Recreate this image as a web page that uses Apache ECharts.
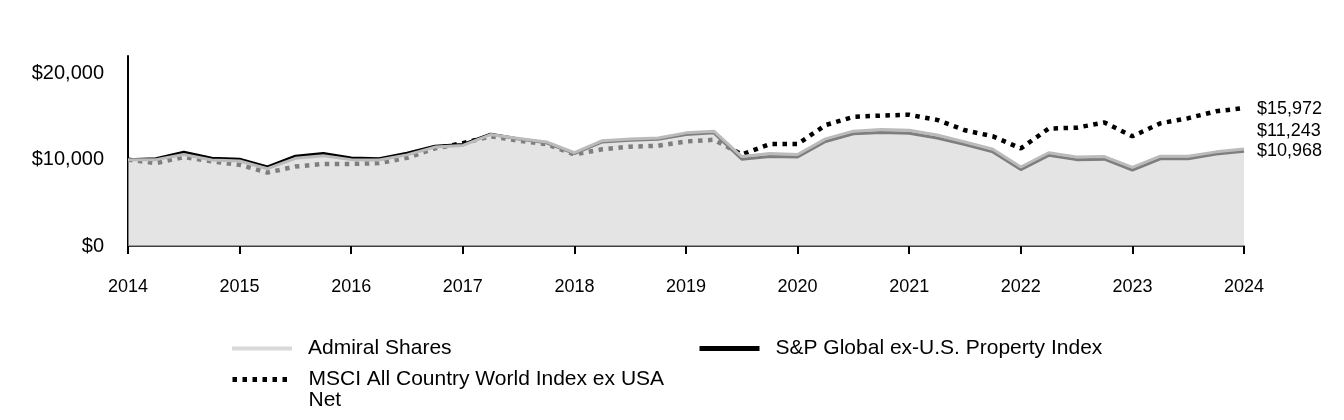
<!DOCTYPE html>
<html><head><meta charset="utf-8">
<script src="https://cdn.jsdelivr.net/npm/echarts@6/dist/echarts.min.js"></script>
<style>html,body{margin:0;padding:0;background:#fff}#c{width:1344px;height:420px}</style>
</head><body><div id="c"></div>
<script>
const periods = [2014, 2014.25, 2014.5, 2014.75, 2015, 2015.25, 2015.5, 2015.75, 2016, 2016.25, 2016.5, 2016.75,
  2017, 2017.25, 2017.5, 2017.75, 2018, 2018.25, 2018.5, 2018.75, 2019, 2019.25, 2019.5, 2019.75,
  2020, 2020.25, 2020.5, 2020.75, 2021, 2021.25, 2021.5, 2021.75, 2022, 2022.25, 2022.5, 2022.75,
  2023, 2023.25, 2023.5, 2023.75, 2024];
const yearTicks = [2014, 2015, 2016, 2017, 2018, 2019, 2020, 2021, 2022, 2023, 2024];
const admiral = [10000, 10000, 10600, 9950, 9850, 8950, 10150, 10450, 10000, 9950, 10550, 11450,
  11650, 12900, 12450, 12050, 10800, 12200, 12400, 12500, 13100, 13300, 10350, 10700,
  10600, 12400, 13300, 13500, 13400, 12850, 12050, 11200, 9150, 10800, 10300, 10350,
  9100, 10400, 10400, 10900, 11243];
const spProperty = [10000, 10100, 10850, 10150, 10050, 9150, 10400, 10700, 10200, 10100, 10750, 11550,
  11750, 12950, 12400, 11950, 10700, 12050, 12250, 12350, 12900, 13100, 10050, 10350,
  10300, 12100, 13000, 13150, 13050, 12500, 11750, 10900, 8850, 10500, 10000, 10050,
  8800, 10100, 10100, 10650, 10968];
const msciAcwi = [10000, 9600, 10300, 9800, 9400, 8500, 9200, 9500, 9500, 9600, 10200, 11300,
  11900, 12700, 12200, 11800, 10600, 11200, 11500, 11600, 12100, 12300, 10600, 11800,
  11800, 14000, 14950, 15100, 15200, 14600, 13400, 12700, 11300, 13600, 13700, 14300,
  12700, 14200, 14800, 15600, 15972];
const names = ['Admiral Shares', 'S&P Global ex-U.S. Property Index', 'MSCI All Country World Index ex USA\nNet'];

const FONT = '"Liberation Sans", Arial, sans-serif';
const pairs = arr => periods.map((t, i) => [t, arr[i]]);
const money = v => '$' + Math.round(v).toLocaleString('en-US');

const chart = echarts.init(document.getElementById('c'), null, {renderer: 'canvas'});
const legendText = {fontSize: 21, color: '#000', fontFamily: FONT, lineHeight: 21, padding: [0, 0, 0, 11]};
const legendBase = {
  padding: 0, itemWidth: 60, itemHeight: 14, itemGap: 0, selectedMode: false,
  itemStyle: {opacity: 0},
  textStyle: legendText
};
chart.setOption({
  animation: false,
  textStyle: {fontFamily: FONT},
  grid: {left: 128, right: 100, top: 56, bottom: 174},
  legend: [
    Object.assign({}, legendBase, {data: [names[0]], left: 230, top: 338, lineStyle: {width: 4, color: '#d9d9d9'}}),
    Object.assign({}, legendBase, {data: [names[1]], left: 697, top: 338, lineStyle: {width: 5, color: '#000'}}),
    Object.assign({}, legendBase, {data: [names[2]], left: 230, top: 348, lineStyle: {width: 5, color: '#000'},
      formatter: n => '{e| }\n' + n,
      textStyle: Object.assign({}, legendText, {rich: {e: {fontSize: 21, lineHeight: 21}}})})
  ],
  xAxis: {
    type: 'value', min: 2014, max: 2024, interval: 1,
    axisLine: {show: true, onZero: false, lineStyle: {color: '#000', width: 1.5}},
    axisTick: {show: true, length: 8, lineStyle: {color: '#000', width: 2}},
    splitLine: {show: false},
    axisLabel: {fontSize: 18, color: '#000', margin: 32, formatter: v => yearTicks.includes(v) ? String(v) : ''}
  },
  yAxis: {
    type: 'value', min: 0, max: 22000, interval: 10000,
    axisLine: {show: true, onZero: false, lineStyle: {color: '#000', width: 2}},
    axisTick: {show: false},
    splitLine: {show: false},
    axisLabel: {fontSize: 20, color: '#000', margin: 24, formatter: v => money(v)}
  },
  series: [
    {
      name: names[2], type: 'line', symbol: 'none', data: pairs(msciAcwi), z: 2,
      itemStyle: {color: '#000'},
      lineStyle: {color: '#000', width: 4.5, type: [4.5, 5.5]},
      endLabel: {show: true, distance: 13, offset: [0, 1], fontSize: 18, color: '#000', fontFamily: FONT,
        formatter: p => money(p.value[1])}
    },
    {
      name: names[1], type: 'line', symbol: 'none', data: pairs(spProperty), z: 2,
      itemStyle: {color: '#000'},
      lineStyle: {color: '#000', width: 3},
      endLabel: {show: true, distance: 13, offset: [0, 0], fontSize: 18, color: '#000', fontFamily: FONT,
        formatter: p => money(p.value[1])}
    },
    {
      name: names[0], type: 'line', symbol: 'none', data: pairs(admiral), z: 4,
      itemStyle: {color: '#bbbbbb'},
      lineStyle: {color: '#bbbbbb', width: 3},
      areaStyle: {color: 'rgba(210,210,210,0.6)', opacity: 1, origin: 'start'},
      endLabel: {show: true, distance: 13, offset: [0, -18], fontSize: 18, color: '#000', fontFamily: FONT,
        formatter: p => money(p.value[1])}
    }
  ]
});
</script></body></html>
